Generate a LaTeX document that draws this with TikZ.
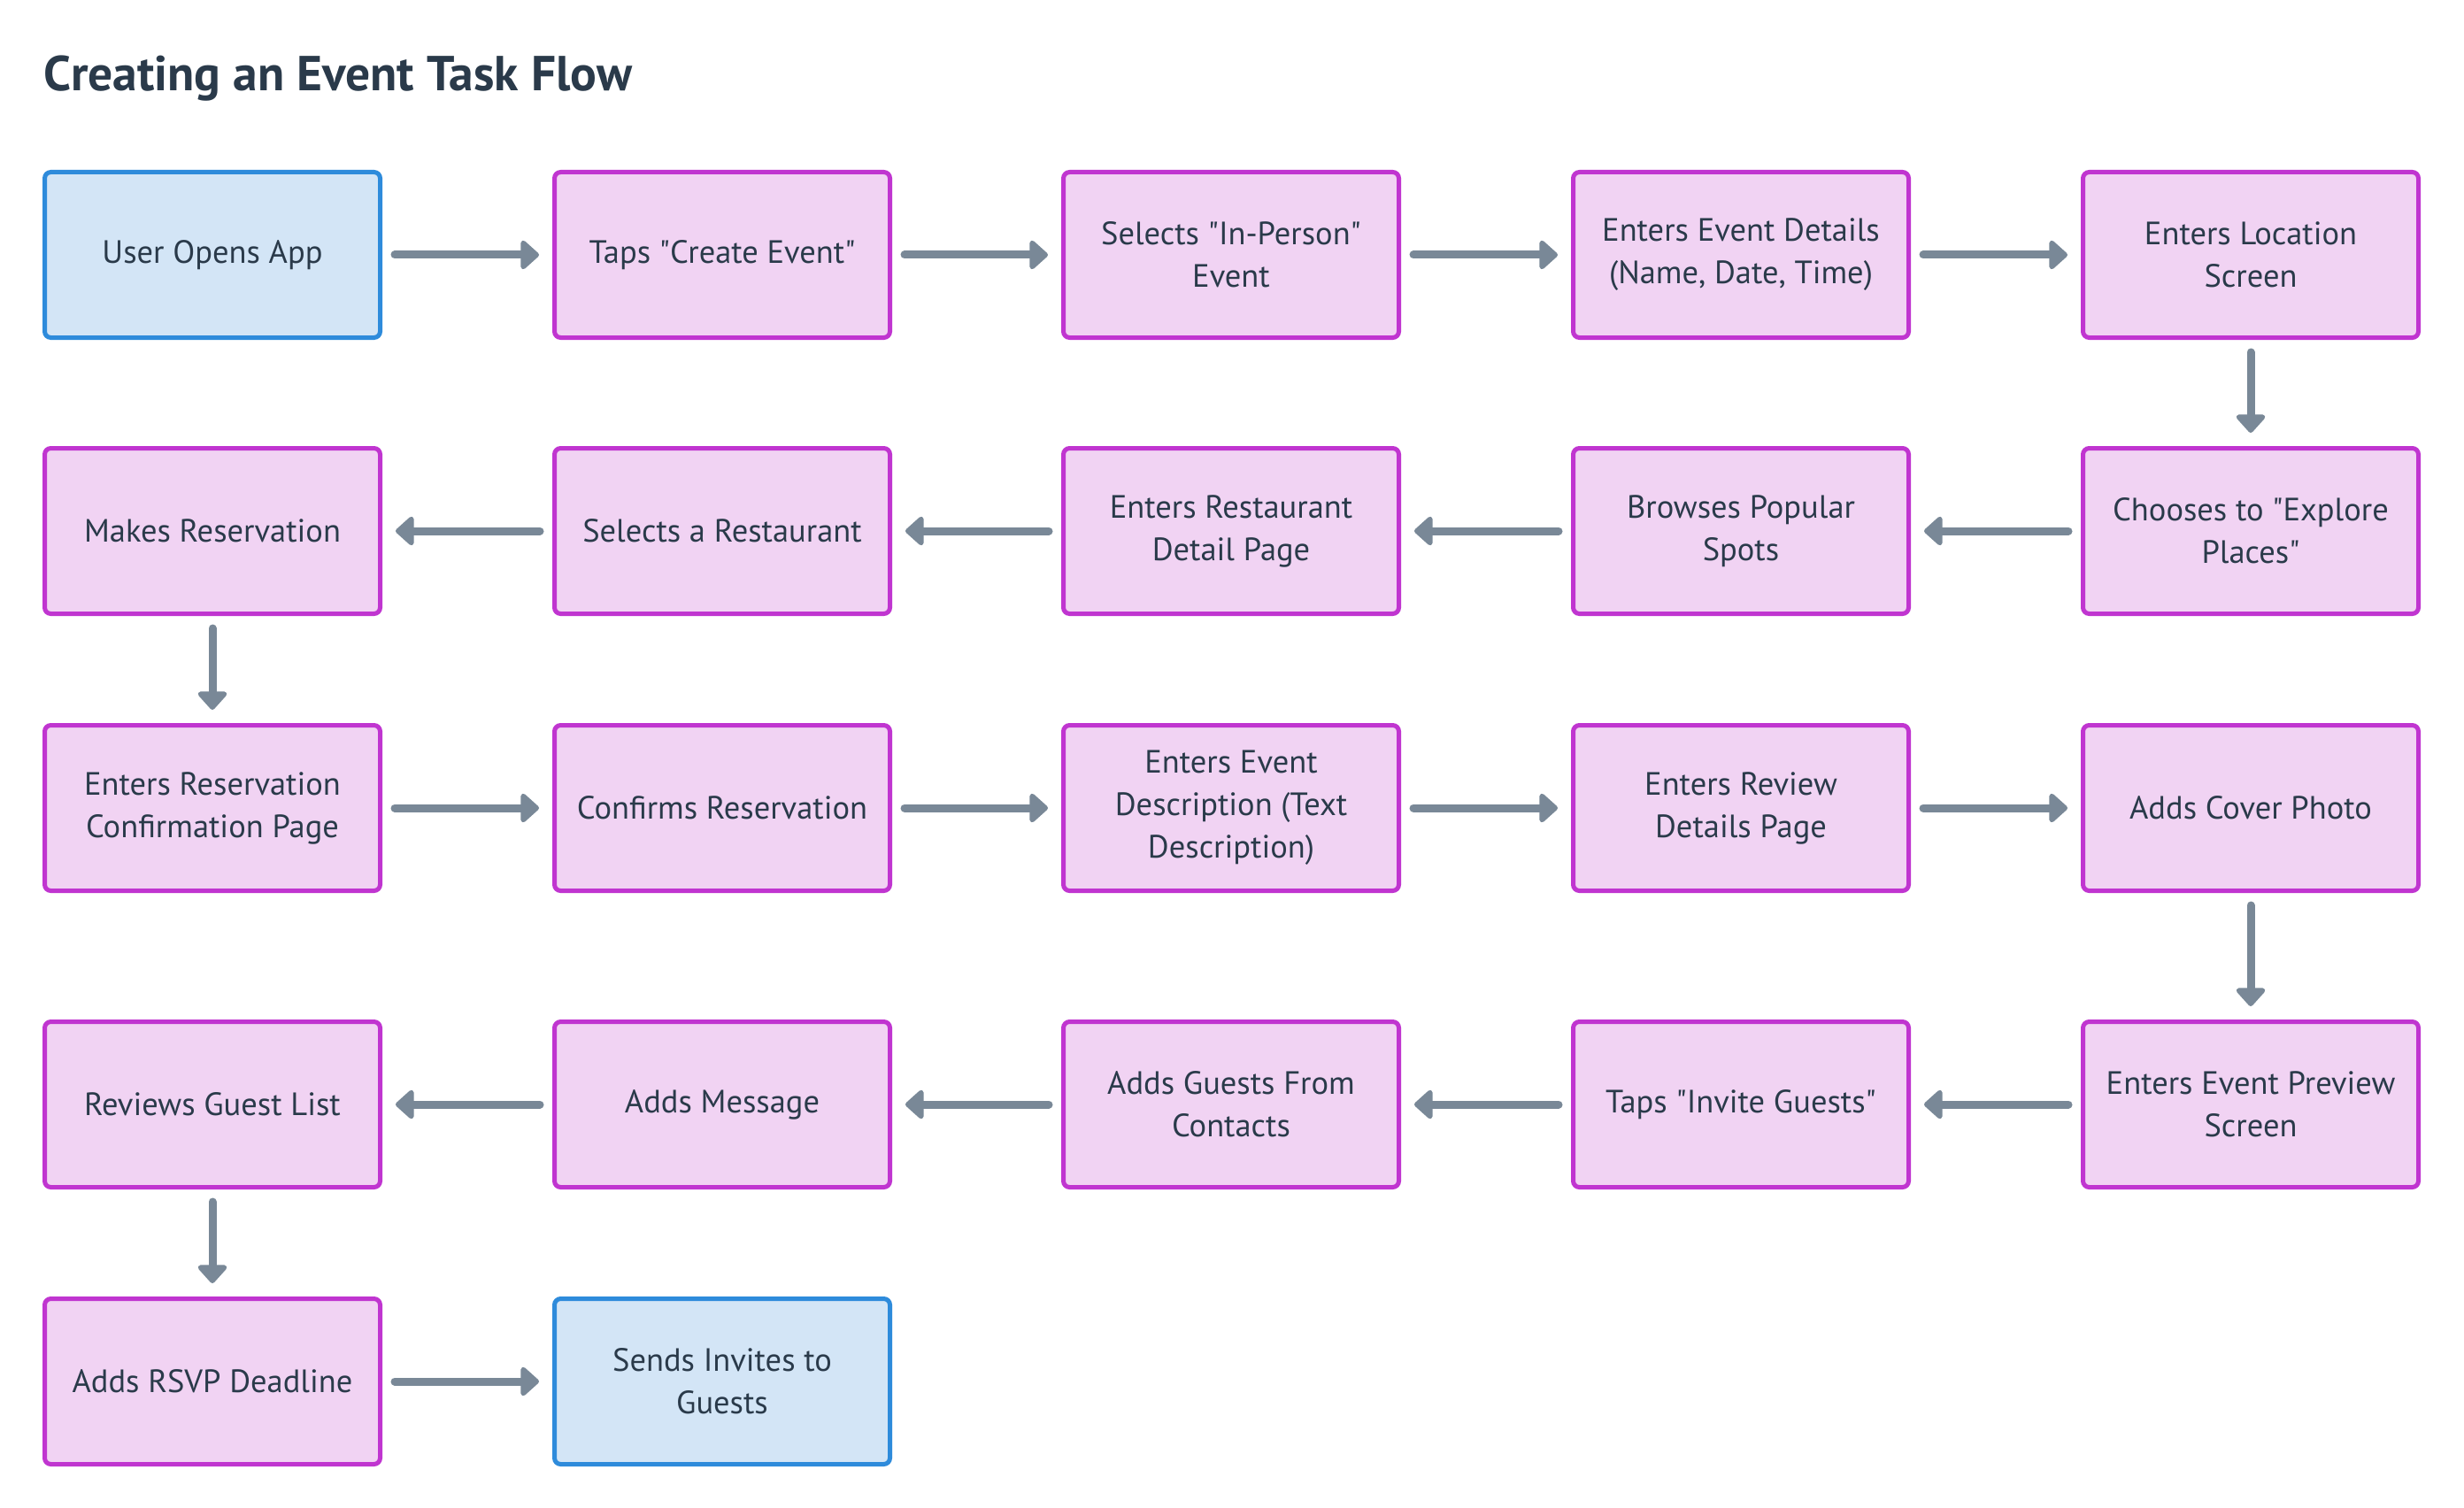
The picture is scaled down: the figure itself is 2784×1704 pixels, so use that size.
\documentclass[tikz,border=0pt]{standalone}
\usepackage{fontspec}
\setmainfont{PT Sans}
\usetikzlibrary{arrows.meta}
\definecolor{ink}{HTML}{2A3A4A}
\definecolor{arrowgray}{HTML}{798897}
\definecolor{startfill}{HTML}{D3E5F6}
\definecolor{startline}{HTML}{2E8BDB}
\definecolor{stepfill}{HTML}{F1D3F3}
\definecolor{stepline}{HTML}{C035D0}
\newcommand{\dq}{\textquotedbl}
\begin{document}
\begin{tikzpicture}[x=1pt,y=-1pt,
  box/.style={rectangle, rounded corners=7pt, line width=5pt,
    minimum width=379pt, minimum height=187pt, align=center,
    text=ink, font=\fontsize{36.5}{48}\selectfont, inner sep=0pt},
  terminal/.style={box, draw=startline, fill=startfill},
  stepbox/.style={box, draw=stepline, fill=stepfill},
  flow/.style={draw=arrowgray, line width=9pt, line cap=round,
    -{Triangle[width=38pt,length=22pt,round]}, shorten >=15pt, shorten <=14pt}]
\useasboundingbox (0,0) rectangle (2784,1704);
\fill[white] (0,0) rectangle (2784,1704);

\node[anchor=base west, text=ink, font=\fontsize{55.5}{66}\selectfont\bfseries]
  (title) at (46,103) {Creating an Event Task Flow};

% column and row centres
\def\ca{240}\def\cb{816}\def\cc{1391}\def\cd{1967}\def\ce{2543}
\def\ra{288}\def\rb{600}\def\rc{913}\def\rd{1248}\def\re{1561}

% row 1
\node[terminal] (n1) at (\ca,\ra) {User Opens App};
\node[stepbox] (n2) at (\cb,\ra) {Taps \dq Create Event\dq};
\node[stepbox] (n3) at (\cc,\ra) {Selects \dq In-Person\dq\\Event};
\node[stepbox] (n4) at (\cd,\ra) {Enters Event Details\\(Name, Date, Time)};
\node[stepbox] (n5) at (\ce,\ra) {Enters Location\\Screen};
% row 2
\node[stepbox] (n6) at (\ce,\rb) {Chooses to \dq Explore\\Places\dq};
\node[stepbox] (n7) at (\cd,\rb) {Browses Popular\\Spots};
\node[stepbox] (n8) at (\cc,\rb) {Enters Restaurant\\Detail Page};
\node[stepbox] (n9) at (\cb,\rb) {Selects a Restaurant};
\node[stepbox] (n10) at (\ca,\rb) {Makes Reservation};
% row 3
\node[stepbox] (n11) at (\ca,\rc) {Enters Reservation\\Confirmation Page};
\node[stepbox] (n12) at (\cb,\rc) {Confirms Reservation};
\node[stepbox] (n13) at (\cc,\rc) {Enters Event\\Description (Text\\Description)};
\node[stepbox] (n14) at (\cd,\rc) {Enters Review\\Details Page};
\node[stepbox] (n15) at (\ce,\rc) {Adds Cover Photo};
% row 4
\node[stepbox] (n16) at (\ce,\rd) {Enters Event Preview\\Screen};
\node[stepbox] (n17) at (\cd,\rd) {Taps \dq Invite Guests\dq};
\node[stepbox] (n18) at (\cc,\rd) {Adds Guests From\\Contacts};
\node[stepbox] (n19) at (\cb,\rd) {Adds Message};
\node[stepbox] (n20) at (\ca,\rd) {Reviews Guest List};
% row 5
\node[stepbox] (n21) at (\ca,\re) {Adds RSVP Deadline};
\node[terminal] (n22) at (\cb,\re) {Sends Invites to\\Guests};

\foreach \a/\b in {n1/n2,n2/n3,n3/n4,n4/n5,n5/n6,n6/n7,n7/n8,n8/n9,n9/n10,
  n10/n11,n11/n12,n12/n13,n13/n14,n14/n15,n15/n16,n16/n17,n17/n18,n18/n19,
  n19/n20,n20/n21,n21/n22}
  \draw[flow] (\a) -- (\b);
\end{tikzpicture}
\end{document}
